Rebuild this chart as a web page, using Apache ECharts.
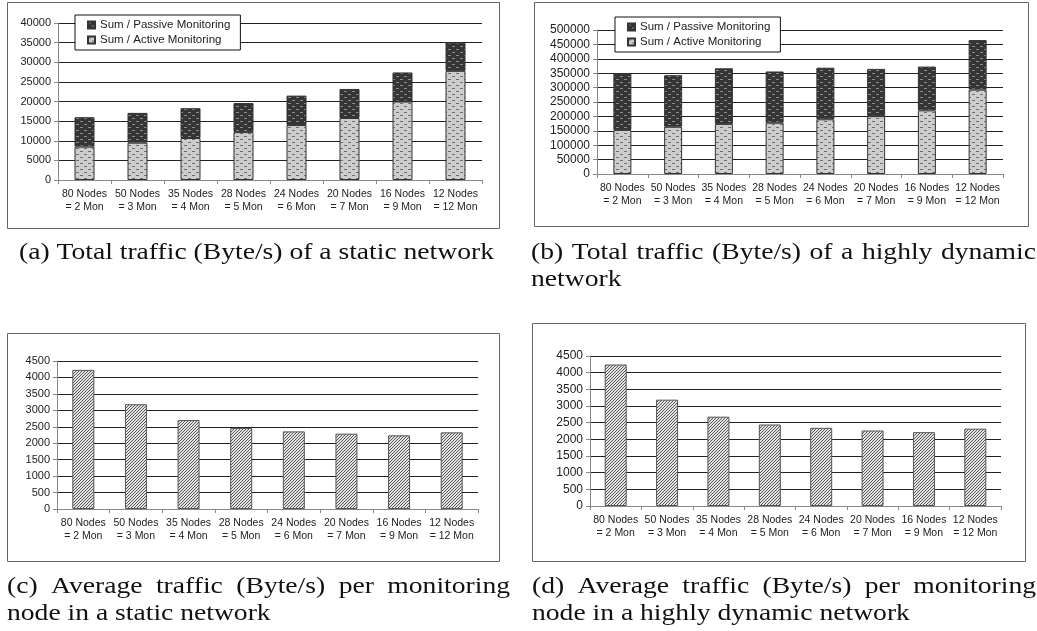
<!DOCTYPE html>
<html lang="en">
<head>
    <meta charset="UTF-8">
    <title>Monitoring traffic</title>
    <script src="https://cdn.jsdelivr.net/npm/echarts@6/dist/echarts.min.js"></script>
    <style>
        html, body { margin: 0; padding: 0; background: #fff; }
        #main { width: 1037px; height: 631px; }
    </style>
</head>
<body>
    <div id="main"></div>
    <script>
        var categories = ['80 Nodes\n= 2 Mon', '50 Nodes\n= 3 Mon', '35 Nodes\n= 4 Mon', '28 Nodes\n= 5 Mon',
            '24 Nodes\n= 6 Mon', '20 Nodes\n= 7 Mon', '16 Nodes\n= 9 Mon', '12 Nodes\n= 12 Mon'];
        var seriesNames = ['Sum / Passive Monitoring', 'Sum / Active Monitoring'];

        // (a) static network, total traffic
        var staticActive = [8500, 9500, 10700, 12200, 14000, 15800, 20000, 27800];
        var staticPassive = [7500, 7600, 7600, 7400, 7500, 7400, 7400, 7200];
        // (b) highly dynamic network, total traffic
        var dynamicActive = [153000, 164000, 174000, 178000, 190000, 201000, 221000, 293000];
        var dynamicPassive = [197000, 179000, 193000, 178000, 179000, 164000, 152000, 172000];
        // (c) / (d) average per monitoring node
        var staticAvg = [4230, 3185, 2705, 2465, 2360, 2290, 2240, 2330];
        var dynamicAvg = [4245, 3190, 2680, 2445, 2345, 2265, 2215, 2320];

        var captions = [
            { lines: ['(a) Total traffic (Byte/s) of a static network'], x0: 19, x1: 495, y: 253, justify: [false] },
            { lines: ['(b) Total traffic (Byte/s) of a highly dynamic', 'network'], x0: 531, x1: 1036, y: 253, justify: [true, false] },
            { lines: ['(c) Average traffic (Byte/s) per monitoring', 'node in a static network'], x0: 7, x1: 510, y: 587, justify: [true, false] },
            { lines: ['(d) Average traffic (Byte/s) per monitoring', 'node in a highly dynamic network'], x0: 532, x1: 1036, y: 587, justify: [true, false] }
        ];

        var FONT = '"Liberation Sans", Arial, sans-serif';
        var CAP_FONT = '"Liberation Serif", "DejaVu Serif", serif';
        var CAP_SIZE = 24;
        var CAP_STRETCH = 1.15; // Times is narrower than the Computer Modern of the original

        // small repeating pattern tiles (Excel style fills)
        function dashTile(bg, fg) {
            var c = document.createElement('canvas');
            c.width = 8; c.height = 6;
            var g = c.getContext('2d');
            g.fillStyle = bg; g.fillRect(0, 0, 8, 6);
            g.fillStyle = fg;
            g.fillRect(0, 1, 3, 1);
            g.fillRect(4, 4, 3, 1);
            return { image: c, repeat: 'repeat' };
        }
        function hatchTile(bg, fg) {
            var c = document.createElement('canvas');
            c.width = 3; c.height = 3;
            var g = c.getContext('2d');
            g.fillStyle = bg; g.fillRect(0, 0, 3, 3);
            g.fillStyle = fg;
            for (var i = 0; i < 3; i++) g.fillRect(i, 2 - i, 1, 1);
            return { image: c, repeat: 'repeat' };
        }
        var passiveFill = dashTile('#353535', '#8a8a8a');
        var activeFill = dashTile('#cdcdcd', '#707070');
        var hatchFill = hatchTile('#e2e2e2', '#5a5a5a');

        var grids = [
            { left: 58, top: 23, width: 424, height: 157 },
            { left: 597, top: 30, width: 406, height: 144 },
            { left: 57, top: 361, width: 421, height: 148 },
            { left: 590, top: 356, width: 411, height: 150 }
        ];
        var yRanges = [[40000, 5000, 11], [500000, 50000, 12], [4500, 500, 11], [4500, 500, 12]];

        var xAxes = grids.map(function (g, i) {
            return {
                type: 'category', gridIndex: i, data: categories,
                axisLine: { lineStyle: { color: '#888', width: 1 } },
                axisTick: { show: true, length: 4, lineStyle: { color: '#888' } },
                axisLabel: { interval: 0, fontFamily: FONT, fontSize: 10.5, lineHeight: 13, color: '#222', margin: 8 }
            };
        });
        var yAxes = grids.map(function (g, i) {
            return {
                type: 'value', gridIndex: i, min: 0, max: yRanges[i][0], interval: yRanges[i][1],
                axisLine: { show: true, lineStyle: { color: '#888', width: 1 } },
                axisTick: { show: true, length: 4, lineStyle: { color: '#888' } },
                axisLabel: {
                    fontFamily: FONT, fontSize: yRanges[i][2], color: '#222', margin: 7,
                    formatter: function (v) { return String(v); }
                },
                splitLine: { lineStyle: { color: '#222', width: 1 } }
            };
        });

        function stacked(name, data, idx, stack, fill, width) {
            return {
                name: name, type: 'bar', data: data, stack: stack,
                xAxisIndex: idx, yAxisIndex: idx, barWidth: width,
                itemStyle: { color: fill, borderColor: '#333', borderWidth: 1 }
            };
        }
        var series = [
            stacked(seriesNames[1], staticActive, 0, 'a', activeFill, 20),
            stacked(seriesNames[0], staticPassive, 0, 'a', passiveFill, 20),
            stacked(seriesNames[1], dynamicActive, 1, 'b', activeFill, 18),
            stacked(seriesNames[0], dynamicPassive, 1, 'b', passiveFill, 18),
            {
                name: 'avg-static', type: 'bar', data: staticAvg, xAxisIndex: 2, yAxisIndex: 2, barWidth: 22,
                itemStyle: { color: hatchFill, borderColor: '#555', borderWidth: 1 }
            },
            {
                name: 'avg-dynamic', type: 'bar', data: dynamicAvg, xAxisIndex: 3, yAxisIndex: 3, barWidth: 22,
                itemStyle: { color: hatchFill, borderColor: '#555', borderWidth: 1 }
            }
        ];

        function legendAt(left, top) {
            return {
                data: seriesNames, left: left, top: top, orient: 'vertical',
                icon: 'rect', itemWidth: 7, itemHeight: 7, itemGap: 3,
                padding: [4, 10, 4, 12],
                backgroundColor: '#fff', borderColor: '#111', borderWidth: 1, borderRadius: 0,
                selectedMode: false,
                textStyle: { fontFamily: FONT, fontSize: 11.5, color: '#222' }
            };
        }

        // caption lines, justified word by word when needed
        var measure = document.createElement('canvas').getContext('2d');
        measure.font = CAP_SIZE + 'px ' + CAP_FONT;
        function textEl(str, x, y) {
            return {
                type: 'text', x: x, y: y, silent: true, scaleX: CAP_STRETCH,
                style: { text: str, fontFamily: CAP_FONT, fontSize: CAP_SIZE, fill: '#111', verticalAlign: 'middle' }
            };
        }
        var graphics = [];
        captions.forEach(function (cap) {
            cap.lines.forEach(function (line, li) {
                var y = cap.y + li * 27;
                if (!cap.justify[li]) { graphics.push(textEl(line, cap.x0, y)); return; }
                var words = line.split(' ');
                var widths = words.map(function (w) { return measure.measureText(w).width * CAP_STRETCH; });
                var total = widths.reduce(function (s, w) { return s + w; }, 0);
                var gap = (cap.x1 - cap.x0 - total) / (words.length - 1);
                var x = cap.x0;
                words.forEach(function (w, k) {
                    graphics.push(textEl(w, x, y));
                    x += widths[k] + gap;
                });
            });
        });
        // frames round each sub chart
        [[7, 2, 492, 226], [534, 2, 494, 224], [7, 333, 492, 228], [532, 323, 493, 238]].forEach(function (b) {
            graphics.push({
                type: 'rect', silent: true, z: 10,
                shape: { x: b[0] + 0.5, y: b[1] + 0.5, width: b[2], height: b[3] },
                style: { fill: 'none', stroke: '#666', lineWidth: 1 }
            });
        });

        var myChart = echarts.init(document.getElementById('main'));
        myChart.setOption({
            backgroundColor: '#fff',
            animation: false,
            grid: grids,
            xAxis: xAxes,
            yAxis: yAxes,
            legend: [legendAt(75, 15), legendAt(615, 17)],
            series: series,
            graphic: graphics
        });
    </script>
</body>
</html>
